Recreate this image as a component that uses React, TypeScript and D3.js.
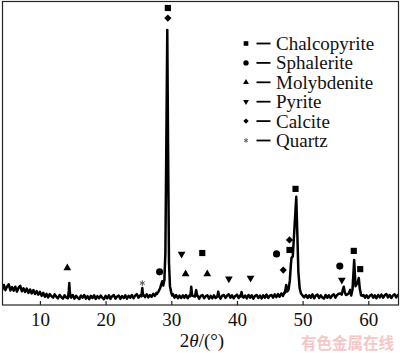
import React, { useRef, useEffect } from 'react'
import * as d3 from 'd3'

// XRD pattern, baseline sampled every 0.25 deg starting at 4 deg (rows = 2 deg)
const baseStart = 4
const baseStep = 0.25
const baseline = [
  62, 50, 66, 49, 61, 68, 48, 59,
  47, 60, 44, 57, 63, 45, 55, 43,
  54, 40, 51, 38, 49, 36, 46, 34,
  43, 30, 40, 27, 37, 25, 36, 29,
  24, 35, 27, 22, 33, 26, 21, 32,
  25, 22, 31, 24, 33, 21, 30, 24,
  20, 31, 24, 33, 21, 29, 19, 30,
  23, 32, 20, 29, 22, 31, 24, 19,
  30, 22, 32, 20, 29, 33, 21, 28,
  31, 20, 29, 23, 32, 21, 30, 24,
  33, 22, 31, 36, 24, 32, 23, 34,
  26, 35, 25, 33, 27, 37, 30, 40,
  42, 50, 60, 70, 80, 60, 40, 32,
  28, 36, 24, 33, 22, 31, 23, 32,
  24, 33, 22, 31, 35, 25, 33, 23,
  31, 21, 30, 33, 22, 29, 32, 21,
  30, 22, 32, 23, 35, 24, 21, 31,
  33, 23, 31, 35, 24, 32, 22, 30,
  34, 23, 32, 37, 24, 31, 22, 33,
  24, 32, 21, 30, 33, 23, 31, 22,
  32, 24, 34, 23, 31, 33, 24, 35,
  26, 36, 27, 38, 30, 42, 36, 45,
  60, 80, 120, 150, 100, 60, 40, 35,
  34, 25, 33, 23, 32, 24, 35, 22,
  31, 34, 23, 32, 25, 21, 33, 24,
  32, 23, 31, 35, 24, 33, 37, 38,
  45, 40, 32, 34, 38, 50, 80, 60,
  55, 70, 45, 35, 26, 33, 24, 32,
  23, 31, 34, 24, 32, 22, 33, 25,
  34, 24, 32, 36, 25, 33, 23, 31,
  35, 25, 33, 24, 32, 36, 26, 34,
]

// peak profiles [2theta, intensity]
const peaks: [number, number][][] = [
  [[14.3, 27], [14.4, 48], [14.47, 72], [14.55, 44], [14.65, 28]],
  [[25.45, 29], [25.59, 56], [25.7, 31]],
  [[27.8, 36], [28.05, 44], [28.3, 55], [28.5, 70], [28.63, 78], [28.78, 64], [28.95, 82],
    [29.1, 170], [29.25, 540], [29.39, 905], [29.52, 500], [29.65, 140], [29.8, 62], [30.0, 40], [30.15, 31]],
  [[32.9, 29], [33.04, 60], [33.18, 31], [33.6, 28], [33.8, 49], [33.95, 30]],
  [[37.0, 27], [37.15, 44], [37.3, 28]],
  [[40.55, 28], [40.7, 43], [40.85, 27]],
  [[47.3, 40], [47.5, 66], [47.65, 44], [47.85, 50], [48.05, 80], [48.2, 130], [48.31, 155],
    [48.5, 160], [48.75, 250], [49.03, 356], [49.2, 230], [49.35, 110], [49.55, 55], [49.75, 38], [50.0, 31]],
  [[55.95, 34], [56.12, 50], [56.27, 60], [56.42, 42], [56.6, 33]],
  [[57.4, 31], [57.6, 52], [57.85, 148], [58.05, 62], [58.35, 72], [58.55, 89], [58.7, 55], [58.9, 32], [59.1, 30]],
]

const phases = ['Chalcopyrite', 'Sphalerite', 'Molybdenite', 'Pyrite', 'Calcite', 'Quartz']

// phase markers [phase index, 2theta, height]
const markers: [number, number, number][] = [
  [0, 29.48, 977], [4, 29.48, 944],
  [2, 14.17, 122],
  [5, 25.59, 72],
  [1, 28.22, 109],
  [3, 31.57, 168],
  [2, 32.18, 102],
  [0, 34.72, 171],
  [2, 35.48, 102],
  [3, 38.77, 86],
  [3, 42.07, 89],
  [1, 46.03, 168],
  [4, 47.05, 115],
  [4, 48.0, 214],
  [0, 48.0, 181],
  [0, 48.92, 382],
  [1, 55.66, 128],
  [3, 55.97, 82],
  [0, 57.79, 178],
  [0, 58.77, 118],
]

const xTicks = [10, 20, 30, 40, 50, 60]

const W = 400
const H = 353
const box = { left: 2.5, right: 398.5, top: 1.5, bottom: 305 }
const serif = '"Liberation Serif", "Times New Roman", serif'

const symbolPath = (phase: number, big: boolean) => {
  const k = big ? 1 : 0.75
  switch (phase) {
    case 0: return d3.symbol(d3.symbolSquare, 38 * k * k)()
    case 1: return d3.symbol(d3.symbolCircle, 40 * k * k)()
    case 2: return d3.symbol(d3.symbolTriangle, 26 * k * k)()
    case 3: return d3.symbol(d3.symbolTriangle, 26 * k * k)()
    case 4: return d3.symbol(d3.symbolSquare, 26 * k * k)()
    default: return d3.symbol(d3.symbolAsterisk, 22 * k * k)()
  }
}
const symbolRotate = (phase: number) => (phase === 3 ? 180 : phase === 4 ? 45 : 0)

export default function App() {
  const svgRef = useRef<SVGSVGElement | null>(null)

  useEffect(() => {
    if (!svgRef.current) return
    const svg = d3.select(svgRef.current)
    svg.selectAll('*').remove()

    const x = d3.scaleLinear().domain([4.3, 64.6]).range([box.left, box.right])
    const y = d3.scaleLinear().domain([0, 1000]).range([box.bottom, 1])

    // merge baseline with peak profiles
    const ranges = peaks.map(p => [p[0][0], p[p.length - 1][0]])
    const pts: [number, number][] = baseline
      .map((v, i) => [baseStart + i * baseStep, v] as [number, number])
      .filter(([t]) => !ranges.some(([a, b]) => t >= a && t <= b))
    peaks.forEach(p => pts.push(...p))
    pts.sort((a, b) => a[0] - b[0])

    svg.append('defs').append('clipPath').attr('id', 'plot-clip')
      .append('rect')
      .attr('x', box.left).attr('y', box.top)
      .attr('width', box.right - box.left).attr('height', box.bottom - box.top)

    const line = d3.line<[number, number]>().x(d => x(d[0])).y(d => y(d[1]))
    svg.append('path')
      .datum(pts)
      .attr('clip-path', 'url(#plot-clip)')
      .attr('d', line)
      .attr('fill', 'none')
      .attr('stroke', '#000')
      .attr('stroke-width', 2.5)
      .attr('stroke-linejoin', 'round')

    // frame
    svg.append('rect')
      .attr('x', box.left).attr('y', box.top)
      .attr('width', box.right - box.left).attr('height', box.bottom - box.top)
      .attr('fill', 'none').attr('stroke', '#222').attr('stroke-width', 1.2)

    // x axis, inward ticks
    const ax = svg.append('g')
      .attr('transform', `translate(0,${box.bottom})`)
      .call(d3.axisBottom(x).tickValues(xTicks).tickSizeInner(-4).tickSizeOuter(0).tickFormat(d3.format('d')))
    ax.select('.domain').remove()
    ax.selectAll('line').attr('stroke', '#222').attr('stroke-width', 1.2)
    ax.selectAll('text')
      .attr('y', 20.5).attr('dy', 0)
      .attr('fill', '#111')
      .style('font-family', serif)
      .style('font-size', '19px')

    const title = svg.append('text')
      .attr('x', 202).attr('y', 347)
      .attr('text-anchor', 'middle')
      .style('font-family', serif)
      .style('font-size', '19px')
      .attr('fill', '#111')
    title.append('tspan').text('2')
    title.append('tspan').style('font-style', 'italic').text('θ')
    title.append('tspan').text('/(°)')

    // markers
    svg.selectAll('.marker')
      .data(markers)
      .enter().append('path')
      .attr('class', 'marker')
      .attr('d', d => symbolPath(d[0], true))
      .attr('transform', d => `translate(${x(d[1])},${y(d[2])}) rotate(${symbolRotate(d[0])})`)
      .attr('fill', d => (d[0] === 5 ? 'none' : '#000'))
      .attr('stroke', d => (d[0] === 5 ? '#555' : 'none'))
      .attr('stroke-width', 1)

    // legend
    const lg = svg.append('g').attr('transform', 'translate(246,43.5)')
    const rows = lg.selectAll('g').data(phases).enter().append('g')
      .attr('transform', (_, i) => `translate(0,${i * 19.4})`)
    rows.append('path')
      .attr('d', (_, i) => symbolPath(i, false))
      .attr('transform', (_, i) => `rotate(${symbolRotate(i)})`)
      .attr('fill', (_, i) => (i === 5 ? 'none' : '#000'))
      .attr('stroke', (_, i) => (i === 5 ? '#555' : 'none'))
    rows.append('line')
      .attr('x1', 10.5).attr('x2', 24.5)
      .attr('stroke', '#000').attr('stroke-width', 1.8)
    rows.append('text')
      .attr('x', 30).attr('y', 6.5)
      .style('font-family', serif)
      .style('font-size', '19px')
      .attr('fill', '#111')
      .text(d => d)

    // watermark
    svg.append('text')
      .attr('x', 394).attr('y', 348.5)
      .attr('text-anchor', 'end')
      .style('font-family', '"Noto Sans CJK SC", sans-serif')
      .style('font-size', '15.5px')
      .style('font-weight', 'bold')
      .attr('fill', '#f5c6c6')
      .text('有色金属在线')
  }, [])

  return (
    <svg
      ref={svgRef}
      width={W}
      height={H}
      style={{ position: 'absolute', left: 0, top: 0, background: '#fff' }}
    />
  )
}
